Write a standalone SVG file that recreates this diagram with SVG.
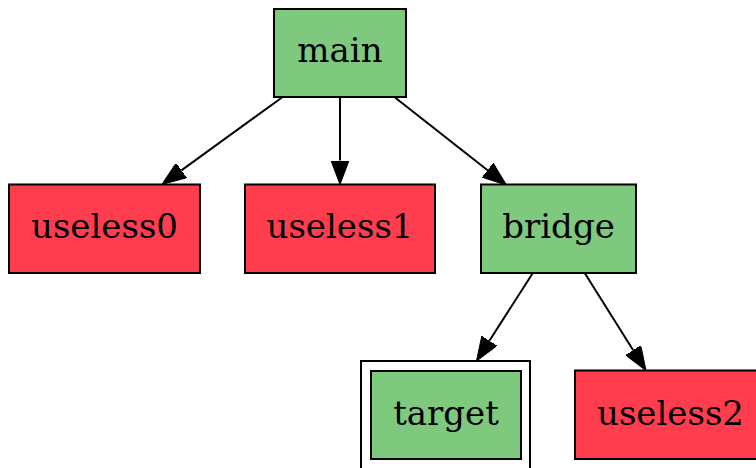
<svg xmlns="http://www.w3.org/2000/svg" width="756" height="468" viewBox="0 0 756 468">
<defs>
<style>
.n rect{stroke:#000;stroke-width:2}
.g{fill:#7fc97f}
.r{fill:#ff3d4f}
.t{font-family:"DejaVu Serif","Liberation Serif",serif;font-size:34px;text-anchor:middle;fill:#000}
.e{stroke:#000;stroke-width:2;fill:none;marker-end:url(#ah)}
</style>
<marker id="ah" viewBox="0 0 24 18" refX="0" refY="9" markerWidth="24" markerHeight="18" markerUnits="userSpaceOnUse" orient="auto">
<path d="M0,0 L24,9 L0,18 Z" fill="#000" stroke="#000" stroke-width="1"/>
</marker>
</defs>
<rect width="756" height="468" fill="#fff"/>
<g id="edges">
<line class="e" x1="282" y1="97.5" x2="181.4" y2="170.4"/>
<line class="e" x1="340" y1="97.5" x2="340" y2="160.5"/>
<line class="e" x1="395" y1="97.5" x2="487.6" y2="170.2"/>
<line class="e" x1="532.5" y1="273.5" x2="489.4" y2="340.8"/>
<line class="e" x1="585" y1="273.5" x2="633.2" y2="350.2"/>
</g>
<g id="main" class="n">
<rect class="g" x="274" y="9" width="132" height="88"/>
<text class="t" x="340" y="62">main</text>
</g>
<g id="useless0" class="n">
<rect class="r" x="9" y="184.5" width="191" height="88.5"/>
<text class="t" x="104.5" y="238">useless0</text>
</g>
<g id="useless1" class="n">
<rect class="r" x="245" y="184.5" width="190" height="88.5"/>
<text class="t" x="340" y="238">useless1</text>
</g>
<g id="bridge" class="n">
<rect class="g" x="481" y="184.5" width="155" height="88.5"/>
<text class="t" x="558.5" y="238">bridge</text>
</g>
<g id="target" class="n">
<rect x="361" y="361" width="169" height="108" fill="none"/>
<rect class="g" x="371" y="371" width="150" height="88"/>
<text class="t" x="446" y="424.5">target</text>
</g>
<g id="useless2" class="n">
<rect class="r" x="575" y="370.5" width="191" height="88.5"/>
<text class="t" x="670.5" y="424.5">useless2</text>
</g>
</svg>
